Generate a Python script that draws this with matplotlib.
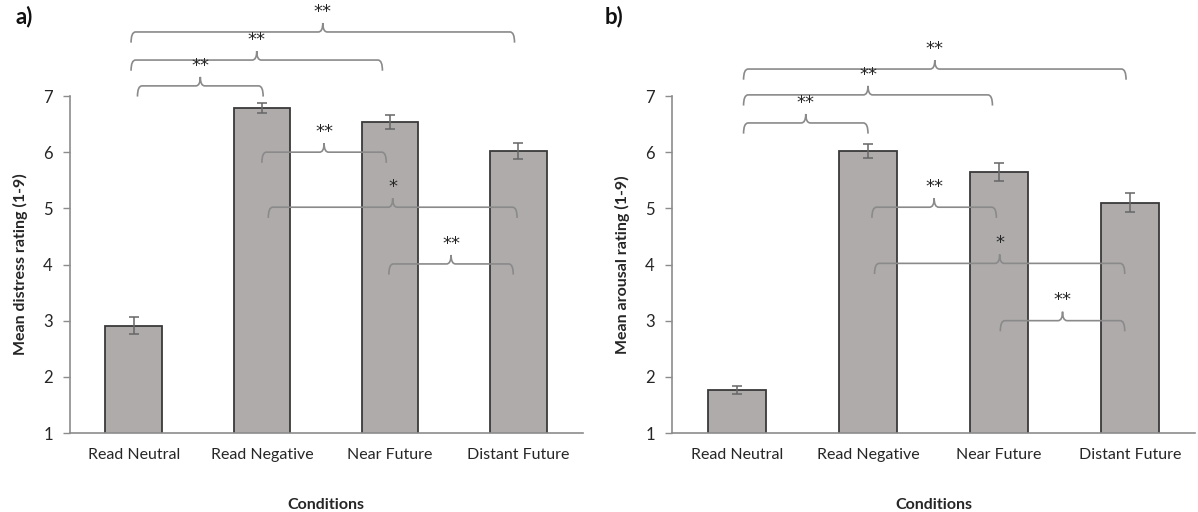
import matplotlib
matplotlib.use('Agg')
import matplotlib.pyplot as plt
from matplotlib.path import Path
from matplotlib.patches import PathPatch

# ---------------- data ----------------
categories = ['Read Neutral', 'Read Negative', 'Near Future', 'Distant Future']
distress_means = [2.91, 6.79, 6.54, 6.02]
distress_err = [0.15, 0.085, 0.13, 0.14]
arousal_means = [1.76, 6.02, 5.65, 5.10]
arousal_err = [0.07, 0.12, 0.155, 0.165]
yticks = [1, 2, 3, 4, 5, 6, 7]

# significance brackets: (x start, x end, level, label)
distress_brackets = [(-0.02, 2.97, 8.14, '**'),
                     (-0.02, 1.94, 7.64, '**'),
                     (0.03, 1.01, 7.18, '**'),
                     (1.00, 1.97, 6.00, '**'),
                     (1.05, 2.99, 5.02, '*'),
                     (1.99, 2.96, 4.01, '**')]
arousal_brackets = [(0.05, 2.97, 7.48, '**'),
                    (0.05, 1.95, 7.02, '**'),
                    (0.05, 1.00, 6.52, '**'),
                    (1.03, 1.98, 5.02, '**'),
                    (1.05, 2.96, 4.02, '*'),
                    (2.01, 2.96, 3.00, '**')]

plt.rcParams['font.family'] = ['Lato', 'DejaVu Sans']

BAR = '#afabab'
EDGE = '#3a3a3a'
AXC = '#8c8c8c'
BRC = '#8a8a8a'
TXT = '#262626'


def bracket(ax, x1, x2, y, label):
    d, h, r = 0.19, 0.16, 0.035
    xm = (x1 + x2) / 2
    verts = [(x1, y - d), (x1, y), (x1 + r, y), (xm - r, y), (xm, y), (xm, y + h),
             (xm, y), (xm + r, y), (x2 - r, y), (x2, y), (x2, y - d)]
    codes = [Path.MOVETO, Path.CURVE3, Path.CURVE3, Path.LINETO, Path.CURVE3, Path.CURVE3,
             Path.CURVE3, Path.CURVE3, Path.LINETO, Path.CURVE3, Path.CURVE3]
    ax.add_patch(PathPatch(Path(verts, codes), fill=False, edgecolor=BRC, lw=1.2,
                           clip_on=False, zorder=4))
    ax.text(xm, y + 0.36, label, ha='center', va='center', fontsize=13,
            family='DejaVu Sans', color=TXT, clip_on=False, zorder=5)


def panel(ax, means, errs, brackets, ylabel):
    x = range(len(categories))
    ax.bar(x, means, width=0.44, bottom=0, color=BAR, edgecolor=EDGE, linewidth=1.3, zorder=2)
    ax.errorbar(x, means, yerr=errs, fmt='none', ecolor='#666666', elinewidth=1.1,
                capsize=3.5, capthick=1.1, zorder=3)
    ax.set_xlim(-0.5, 3.5)
    ax.set_ylim(1, 7)
    ax.set_yticks(yticks)
    ax.set_xticks(list(x))
    ax.set_xticklabels(categories, fontsize=11.5, color=TXT)
    ax.tick_params(axis='x', length=0, pad=11)
    ax.tick_params(axis='y', direction='out', length=5, width=1, color=AXC,
                   labelsize=12, labelcolor=TXT, pad=7)
    for s in ['top', 'right']:
        ax.spines[s].set_visible(False)
    for s in ['left', 'bottom']:
        ax.spines[s].set_color(AXC)
        ax.spines[s].set_linewidth(1.2)
    ax.set_ylabel(ylabel, fontsize=11.5, fontweight='bold', color=TXT, labelpad=11)
    ax.set_xlabel('Conditions', fontsize=11.5, fontweight='bold', color=TXT, labelpad=26)
    for b in brackets:
        bracket(ax, *b)


fig = plt.figure(figsize=(11.98, 5.12), dpi=100)
ax1 = fig.add_axes([69.5 / 1198, 79 / 512, 513 / 1198, 337 / 512])
ax2 = fig.add_axes([671.5 / 1198, 79 / 512, 524 / 1198, 337 / 512])

panel(ax1, distress_means, distress_err, distress_brackets, 'Mean distress rating (1-9)')
panel(ax2, arousal_means, arousal_err, arousal_brackets, 'Mean arousal rating (1-9)')

fig.text(15 / 1198, 1 - 17 / 512, 'a)', fontsize=16, fontweight='bold', va='center', ha='left', color='#111111')
fig.text(605 / 1198, 1 - 17 / 512, 'b)', fontsize=16, fontweight='bold', va='center', ha='left', color='#111111')

fig.savefig('out.png', dpi=100)
